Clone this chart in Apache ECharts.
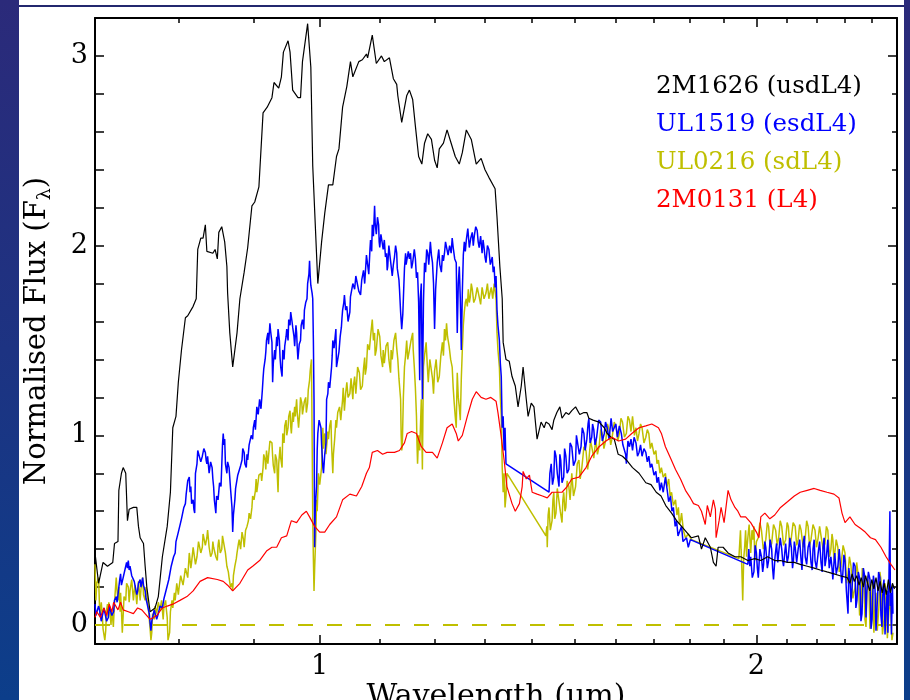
<!DOCTYPE html>
<html>
<head>
<meta charset="utf-8">
<title>Normalised spectra of L4 dwarfs and subdwarfs</title>
<script src="https://cdn.jsdelivr.net/npm/echarts@6/dist/echarts.min.js"></script>
<style>
  html, body { margin: 0; padding: 0; width: 910px; height: 700px; overflow: hidden; }
  body { position: relative; background: linear-gradient(180deg, #2b2a7a 0%, #1d3382 50%, #0c3e8a 100%); }
  #sheet { position: absolute; left: 19px; top: 0; width: 885px; height: 700px; background: #ffffff; }
  #rule { position: absolute; left: 19px; top: 5px; width: 885px; height: 2px; background: #23276e; }
  #chart { position: absolute; left: 0; top: 0; width: 910px; height: 700px; }
</style>
</head>
<body>
<div id="sheet"></div>
<div id="rule"></div>
<div id="chart"></div>
<script>
// Spectra: [wavelength (micron), normalised flux]
const NAMES = ['2M1626 (usdL4)', 'UL1519 (esdL4)', 'UL0216 (sdL4)', '2M0131 (L4)'];
const COLORS = ['#000000', '#0000ff', '#bfbf00', '#ff0000'];

const SPEC_2M1626 = [
  [0.7005,0.36],[0.704,0.22],[0.709,0.33],[0.714,0.31],[0.72,0.33],[0.722,0.43],[0.726,0.44],[0.727,0.71],
  [0.73,0.80],[0.732,0.83],[0.735,0.80],[0.737,0.55],[0.739,0.61],[0.744,0.62],[0.748,0.62],[0.75,0.52],
  [0.752,0.46],[0.756,0.43],[0.758,0.31],[0.76,0.20],[0.764,0.07],[0.766,0.06],[0.77,0.09],[0.774,0.15],
  [0.779,0.36],[0.781,0.36],[0.785,0.52],[0.789,0.70],[0.792,1.04],[0.796,1.10],[0.799,1.28],[0.803,1.45],
  [0.808,1.62],[0.811,1.63],[0.818,1.68],[0.822,1.72],[0.824,1.98],[0.828,2.04],[0.831,2.04],[0.834,2.11],
  [0.836,1.97],[0.844,1.96],[0.847,1.98],[0.85,1.93],[0.852,2.07],[0.856,2.10],[0.86,2.02],[0.863,1.89],
  [0.864,1.75],[0.867,1.54],[0.871,1.36],[0.877,1.54],[0.881,1.72],[0.887,1.86],[0.892,1.99],[0.898,2.21],
  [0.902,2.23],[0.908,2.31],[0.914,2.70],[0.92,2.73],[0.927,2.78],[0.93,2.86],[0.937,2.83],[0.941,2.89],
  [0.944,3.02],[0.951,3.08],[0.954,3.02],[0.958,2.82],[0.966,2.78],[0.97,2.78],[0.973,2.97],[0.981,3.17],
  [0.986,2.94],[0.989,2.42],[0.997,1.80],[1.003,2.02],[1.008,2.17],[1.014,2.32],[1.021,2.32],[1.027,2.47],
  [1.031,2.51],[1.037,2.73],[1.044,2.84],[1.05,2.97],[1.054,2.89],[1.064,2.97],[1.07,2.98],[1.077,3.01],
  [1.079,2.99],[1.087,3.11],[1.094,2.96],[1.103,3.00],[1.108,2.97],[1.117,2.99],[1.124,2.88],[1.13,2.85],
  [1.132,2.79],[1.139,2.65],[1.142,2.66],[1.148,2.79],[1.153,2.82],[1.159,2.77],[1.164,2.63],[1.17,2.47],
  [1.176,2.43],[1.181,2.54],[1.187,2.59],[1.194,2.56],[1.2,2.45],[1.205,2.41],[1.209,2.51],[1.217,2.54],
  [1.224,2.61],[1.232,2.54],[1.24,2.47],[1.248,2.43],[1.254,2.49],[1.262,2.61],[1.272,2.56],[1.282,2.43],
  [1.292,2.46],[1.3,2.40],[1.308,2.36],[1.321,2.30],[1.325,2.15],[1.331,1.89],[1.336,1.72],[1.338,1.49],
  [1.344,1.40],[1.351,1.39],[1.357,1.31],[1.364,1.26],[1.37,1.15],[1.377,1.26],[1.381,1.36],[1.388,1.19],
  [1.392,1.10],[1.399,1.17],[1.405,1.15],[1.412,0.98],[1.421,1.07],[1.428,1.04],[1.432,1.07],[1.439,1.06],
  [1.446,1.03],[1.45,1.08],[1.457,1.12],[1.464,1.15],[1.469,1.09],[1.478,1.12],[1.485,1.11],[1.492,1.13],
  [1.501,1.15],[1.511,1.11],[1.521,1.12],[1.528,1.12],[1.533,1.09],[1.543,1.08],[1.558,1.07],[1.571,1.04],
  [1.578,1.01],[1.588,0.99],[1.596,0.98],[1.606,0.90],[1.617,0.89],[1.627,0.87],[1.643,0.83],[1.66,0.80],
  [1.678,0.75],[1.692,0.74],[1.706,0.70],[1.719,0.68],[1.732,0.63],[1.748,0.59],[1.762,0.55],[1.776,0.52],
  [1.79,0.49],[1.804,0.46],[1.824,0.47],[1.833,0.40],[1.844,0.46],[1.859,0.41],[1.868,0.33],[1.876,0.31],
  [1.882,0.41],[1.897,0.41],[1.912,0.38],[1.933,0.36],[1.951,0.36],[1.973,0.34],[1.995,0.35],[2.014,0.34],
  [2.036,0.36],[2.059,0.34],[2.078,0.34],[2.101,0.33],[2.124,0.33],[2.144,0.32],[2.168,0.31],[2.192,0.30],
  [2.213,0.29],[2.237,0.28],[2.262,0.27],[2.284,0.26],[2.31,0.25],[2.32,0.22],[2.328,0.27],[2.336,0.23],
  [2.345,0.26],[2.354,0.21],[2.362,0.25],[2.37,0.20],[2.378,0.26],[2.386,0.22],[2.394,0.18],[2.402,0.24],
  [2.41,0.19],[2.418,0.25],[2.426,0.18],[2.434,0.23],[2.442,0.17],[2.45,0.22],[2.458,0.16],[2.466,0.24],
  [2.474,0.17],[2.482,0.22],[2.49,0.19]
];

const SPEC_UL1519 = [
  [0.700,0.11],[0.701,0.05],[0.702,0.04],[0.704,0.10],[0.705,0.08],[0.707,0.02],[0.709,0.03],[0.710,0.09],
  [0.712,0.08],[0.713,0.02],[0.715,0.04],[0.716,0.10],[0.718,0.09],[0.719,0.05],[0.721,0.07],[0.722,0.13],
  [0.724,0.15],[0.725,0.12],[0.727,0.20],[0.728,0.24],[0.729,0.27],[0.730,0.21],[0.731,0.22],[0.732,0.25],
  [0.734,0.29],[0.736,0.33],[0.737,0.30],[0.738,0.34],[0.739,0.29],[0.740,0.31],[0.742,0.26],[0.744,0.27],
  [0.745,0.23],[0.746,0.22],[0.748,0.16],[0.749,0.18],[0.750,0.22],[0.752,0.24],[0.753,0.20],[0.755,0.25],
  [0.756,0.21],[0.758,0.18],[0.759,0.14],[0.760,0.13],[0.762,0.08],[0.763,0.06],[0.764,0.01],[0.765,-0.03],
  [0.766,0.02],[0.768,0.03],[0.769,0.08],[0.770,0.07],[0.772,0.03],[0.774,0.06],[0.776,0.10],[0.779,0.09],
  [0.781,0.14],[0.783,0.13],[0.784,0.19],[0.785,0.18],[0.787,0.24],[0.789,0.25],[0.790,0.31],[0.792,0.31],
  [0.793,0.36],[0.795,0.38],[0.796,0.44],[0.797,0.45],[0.799,0.49],[0.801,0.50],[0.803,0.56],[0.805,0.57],
  [0.806,0.62],[0.808,0.64],[0.809,0.69],[0.810,0.70],[0.811,0.76],[0.813,0.78],[0.814,0.70],[0.815,0.73],
  [0.816,0.64],[0.818,0.66],[0.819,0.61],[0.820,0.59],[0.821,0.80],[0.823,0.85],[0.824,0.92],[0.826,0.91],
  [0.828,0.86],[0.830,0.89],[0.832,0.93],[0.834,0.91],[0.835,0.87],[0.836,0.85],[0.837,0.89],[0.839,0.80],
  [0.841,0.86],[0.843,0.83],[0.844,0.77],[0.845,0.73],[0.846,0.66],[0.848,0.59],[0.849,0.68],[0.851,0.66],
  [0.853,0.75],[0.855,0.73],[0.857,0.95],[0.858,1.01],[0.859,0.95],[0.860,0.98],[0.861,0.85],[0.863,0.80],
  [0.864,0.86],[0.866,0.83],[0.868,0.72],[0.870,0.62],[0.871,0.49],[0.872,0.58],[0.874,0.66],[0.875,0.72],
  [0.877,0.73],[0.878,0.79],[0.880,0.80],[0.882,0.84],[0.884,0.87],[0.885,0.93],[0.887,0.91],[0.888,0.85],
  [0.890,0.83],[0.891,0.90],[0.892,0.87],[0.894,0.95],[0.896,0.94],[0.897,1.00],[0.899,0.98],[0.900,1.04],
  [0.902,1.08],[0.903,1.03],[0.905,1.15],[0.907,1.11],[0.909,1.19],[0.911,1.14],[0.913,1.24],[0.914,1.30],
  [0.915,1.35],[0.917,1.40],[0.918,1.44],[0.919,1.50],[0.921,1.54],[0.922,1.48],[0.924,1.59],[0.925,1.55],
  [0.927,1.49],[0.928,1.28],[0.929,1.38],[0.931,1.45],[0.932,1.40],[0.934,1.52],[0.935,1.47],[0.936,1.56],
  [0.938,1.50],[0.939,1.41],[0.940,1.36],[0.942,1.31],[0.943,1.45],[0.945,1.40],[0.946,1.47],[0.948,1.52],
  [0.949,1.56],[0.951,1.50],[0.952,1.61],[0.954,1.58],[0.955,1.65],[0.957,1.60],[0.958,1.57],[0.960,1.52],
  [0.961,1.47],[0.963,1.58],[0.964,1.54],[0.965,1.46],[0.966,1.40],[0.968,1.48],[0.970,1.50],[0.971,1.58],
  [0.973,1.61],[0.975,1.56],[0.976,1.66],[0.978,1.70],[0.980,1.72],[0.981,1.80],[0.983,1.85],[0.984,1.92],
  [0.985,1.84],[0.986,1.79],[0.988,1.75],[0.989,1.72],[0.990,1.50],[0.991,1.19],[0.992,0.41],[0.993,0.62],
  [0.995,0.73],[0.996,0.92],[0.997,1.01],[0.999,1.08],[1.002,1.04],[1.003,0.95],[1.005,0.83],[1.006,0.80],
  [1.008,0.90],[1.010,0.96],[1.011,1.19],[1.013,1.22],[1.014,1.28],[1.016,1.25],[1.019,1.36],[1.020,1.42],
  [1.021,1.50],[1.023,1.46],[1.026,1.56],[1.027,1.36],[1.029,1.40],[1.031,1.44],[1.033,1.52],[1.035,1.57],
  [1.036,1.62],[1.037,1.66],[1.039,1.70],[1.040,1.74],[1.042,1.66],[1.044,1.68],[1.046,1.60],[1.049,1.65],
  [1.050,1.73],[1.052,1.72],[1.054,1.80],[1.057,1.77],[1.059,1.84],[1.062,1.83],[1.064,1.76],[1.067,1.74],
  [1.069,1.82],[1.072,1.87],[1.074,1.80],[1.077,1.95],[1.079,1.90],[1.081,1.85],[1.083,1.98],[1.084,2.03],
  [1.086,1.97],[1.087,2.11],[1.089,2.05],[1.091,2.21],[1.092,2.12],[1.094,2.06],[1.096,2.15],[1.098,2.11],
  [1.099,2.02],[1.100,1.99],[1.102,2.06],[1.105,2.07],[1.106,1.98],[1.108,2.03],[1.110,1.94],[1.112,1.96],
  [1.113,1.87],[1.114,1.89],[1.116,2.00],[1.117,1.99],[1.119,1.92],[1.121,1.91],[1.122,1.84],[1.124,1.90],
  [1.126,1.94],[1.128,2.00],[1.130,1.96],[1.131,1.88],[1.132,1.89],[1.134,1.82],[1.135,1.77],[1.137,1.65],
  [1.139,1.56],[1.141,1.64],[1.142,1.72],[1.144,1.88],[1.146,1.96],[1.147,1.90],[1.149,1.89],[1.151,1.97],
  [1.153,1.93],[1.155,1.96],[1.157,1.88],[1.159,1.91],[1.162,1.98],[1.164,1.93],[1.166,1.83],[1.168,1.86],
  [1.170,1.70],[1.172,1.29],[1.173,1.72],[1.175,1.80],[1.177,1.19],[1.179,1.70],[1.181,1.91],[1.183,1.86],
  [1.185,1.98],[1.187,1.96],[1.189,1.90],[1.192,2.02],[1.194,1.95],[1.196,1.91],[1.198,1.80],[1.200,1.56],
  [1.202,1.77],[1.204,1.86],[1.205,1.91],[1.208,1.98],[1.210,1.90],[1.213,1.86],[1.215,1.95],[1.217,1.92],
  [1.219,1.96],[1.221,2.02],[1.224,2.03],[1.226,1.95],[1.229,2.00],[1.232,1.96],[1.234,2.04],[1.236,1.99],
  [1.239,1.93],[1.242,1.91],[1.243,1.70],[1.244,1.54],[1.246,1.80],[1.248,1.89],[1.250,1.72],[1.252,1.45],
  [1.253,1.60],[1.254,1.75],[1.256,1.95],[1.258,2.02],[1.260,1.97],[1.262,2.03],[1.265,2.09],[1.268,1.99],
  [1.271,2.04],[1.274,2.07],[1.276,2.00],[1.278,2.05],[1.281,2.10],[1.284,2.08],[1.286,2.02],[1.288,1.99],
  [1.291,2.05],[1.294,1.96],[1.296,2.03],[1.298,1.99],[1.300,1.94],[1.302,1.91],[1.305,2.00],[1.308,1.98],
  [1.311,1.90],[1.315,1.94],[1.317,1.86],[1.319,1.89],[1.321,1.78],[1.323,1.84],[1.325,1.66],[1.327,1.58],
  [1.330,1.50],[1.332,1.38],[1.334,1.31],[1.336,1.04],[1.338,1.10],[1.340,0.92],[1.342,1.04],[1.344,0.85],
  [1.439,0.70],[1.441,0.80],[1.444,0.85],[1.447,0.74],[1.450,0.78],[1.452,0.92],[1.455,0.89],[1.458,0.80],
  [1.462,0.73],[1.464,0.90],[1.466,0.87],[1.469,0.75],[1.473,0.78],[1.475,0.93],[1.478,0.89],[1.481,0.80],
  [1.485,0.82],[1.488,0.96],[1.492,0.94],[1.496,0.84],[1.501,0.87],[1.503,1.00],[1.506,0.99],[1.510,0.90],
  [1.514,0.94],[1.517,1.04],[1.521,1.01],[1.524,0.92],[1.528,0.98],[1.531,1.06],[1.533,1.09],[1.536,0.96],
  [1.540,0.99],[1.542,1.06],[1.545,1.03],[1.548,0.95],[1.552,0.99],[1.557,1.08],[1.562,1.07],[1.566,0.97],
  [1.571,1.01],[1.574,1.07],[1.578,1.04],[1.583,0.98],[1.588,1.09],[1.592,1.02],[1.596,1.01],[1.600,1.06],
  [1.604,0.99],[1.609,1.05],[1.614,1.01],[1.618,0.95],[1.622,0.96],[1.625,0.90],[1.627,0.85],[1.631,0.97],
  [1.635,0.94],[1.639,0.98],[1.643,0.92],[1.647,0.99],[1.652,0.96],[1.656,0.89],[1.660,0.91],[1.664,0.95],
  [1.668,0.89],[1.673,0.93],[1.678,0.91],[1.682,0.86],[1.686,0.89],[1.690,0.83],[1.694,0.85],[1.700,0.79],
  [1.705,0.81],[1.708,0.75],[1.712,0.78],[1.716,0.71],[1.720,0.75],[1.725,0.70],[1.731,0.78],[1.736,0.71],
  [1.740,0.65],[1.745,0.68],[1.749,0.60],[1.753,0.62],[1.758,0.52],[1.762,0.55],[1.766,0.47],[1.770,0.49],
  [1.776,0.52],[1.780,0.44],[1.784,0.43],[1.790,0.46],[1.795,0.41],[1.801,0.45],
  [1.973,0.32],[1.976,0.40],[1.979,0.31],[1.982,0.36],[1.987,0.25],[1.992,0.28],[1.996,0.42],[2.000,0.38],
  [2.003,0.30],[2.006,0.25],[2.011,0.40],[2.016,0.36],[2.020,0.28],[2.023,0.32],[2.027,0.44],[2.030,0.41],
  [2.035,0.30],[2.039,0.34],[2.044,0.45],[2.049,0.40],[2.052,0.30],[2.055,0.24],[2.060,0.36],[2.065,0.43],
  [2.069,0.33],[2.072,0.38],[2.077,0.46],[2.082,0.40],[2.085,0.34],[2.088,0.31],[2.092,0.38],[2.095,0.43],
  [2.100,0.33],[2.104,0.36],[2.109,0.46],[2.114,0.41],[2.118,0.30],[2.121,0.34],[2.124,0.44],[2.127,0.41],
  [2.132,0.33],[2.137,0.40],[2.142,0.45],[2.147,0.34],[2.150,0.29],[2.154,0.43],[2.158,0.47],[2.161,0.36],
  [2.166,0.32],[2.171,0.41],[2.176,0.44],[2.181,0.33],[2.185,0.29],[2.188,0.40],[2.192,0.45],[2.195,0.34],
  [2.200,0.30],[2.206,0.38],[2.211,0.44],[2.216,0.33],[2.220,0.28],[2.223,0.41],[2.227,0.46],[2.230,0.31],
  [2.235,0.36],[2.240,0.45],[2.245,0.30],[2.251,0.36],[2.255,0.30],[2.258,0.24],[2.262,0.33],[2.265,0.38],
  [2.270,0.27],[2.276,0.31],[2.281,0.40],[2.287,0.41],[2.290,0.22],[2.294,0.27],[2.298,0.37],[2.302,0.34],
  [2.307,0.18],[2.313,0.06],[2.316,0.30],[2.320,0.25],[2.324,0.12],[2.328,0.20],[2.333,0.33],[2.339,0.31],
  [2.342,0.09],[2.346,0.13],[2.351,0.28],[2.357,0.24],[2.361,0.02],[2.365,0.06],[2.370,0.30],[2.376,0.25],
  [2.380,0.04],[2.383,0.17],[2.389,0.28],[2.395,0.24],[2.399,-0.02],[2.403,0.03],[2.408,0.26],[2.414,0.20],
  [2.418,-0.03],[2.422,0.09],[2.428,0.28],[2.433,0.25],[2.437,0.05],[2.441,-0.01],[2.445,0.20],[2.449,0.24],
  [2.453,-0.05],[2.457,0.09],[2.461,0.18],[2.464,-0.04],[2.468,0.22],[2.472,0.60],[2.474,0.10],[2.476,0.17],
  [2.478,-0.05],[2.480,-0.04],[2.482,0.20],[2.484,0.06]
];

const SPEC_UL0216 = [
  [0.700,0.32],[0.701,0.13],[0.702,0.22],[0.704,0.25],[0.705,0.10],[0.7055,0.05],[0.707,0.12],[0.708,0.06],
  [0.709,-0.02],[0.711,-0.08],[0.712,-0.03],[0.713,0.08],[0.714,0.11],[0.715,0.04],[0.7155,0.12],[0.717,0.06],
  [0.718,0.00],[0.719,0.08],[0.720,0.03],[0.7207,-0.01],[0.722,0.12],[0.724,0.25],[0.725,0.18],[0.726,0.13],
  [0.727,0.20],[0.7285,0.07],[0.729,0.17],[0.730,0.08],[0.731,-0.04],[0.732,0.05],[0.733,0.15],[0.735,0.13],
  [0.736,0.22],[0.738,0.20],[0.739,0.12],[0.740,0.18],[0.742,0.24],[0.744,0.13],[0.745,0.18],[0.746,0.21],
  [0.748,0.11],[0.749,0.17],[0.750,0.23],[0.752,0.13],[0.753,0.19],[0.755,0.25],[0.756,0.16],[0.758,0.13],
  [0.759,0.20],[0.760,0.17],[0.762,0.08],[0.763,0.03],[0.764,-0.02],[0.765,-0.08],[0.766,-0.04],[0.767,0.06],
  [0.769,0.03],[0.770,0.10],[0.772,0.06],[0.774,0.12],[0.776,0.08],[0.778,0.13],[0.780,0.03],[0.781,0.10],
  [0.783,0.13],[0.784,0.08],[0.785,0.04],[0.786,-0.08],[0.788,-0.04],[0.789,0.07],[0.791,0.13],[0.792,0.09],
  [0.794,0.17],[0.795,0.13],[0.797,0.22],[0.799,0.16],[0.800,0.20],[0.802,0.26],[0.804,0.27],[0.805,0.21],
  [0.806,0.24],[0.808,0.30],[0.810,0.31],[0.811,0.25],[0.813,0.38],[0.815,0.30],[0.816,0.33],[0.818,0.41],
  [0.819,0.40],[0.821,0.32],[0.823,0.36],[0.825,0.44],[0.826,0.45],[0.828,0.38],[0.830,0.41],[0.831,0.48],
  [0.832,0.49],[0.834,0.42],[0.836,0.46],[0.837,0.50],[0.839,0.41],[0.841,0.36],[0.843,0.38],[0.844,0.44],
  [0.845,0.41],[0.848,0.36],[0.850,0.34],[0.851,0.42],[0.852,0.45],[0.854,0.38],[0.856,0.40],[0.857,0.47],
  [0.859,0.46],[0.861,0.38],[0.863,0.31],[0.865,0.28],[0.866,0.25],[0.868,0.20],[0.870,0.22],[0.871,0.18],
  [0.872,0.26],[0.874,0.31],[0.876,0.35],[0.877,0.38],[0.879,0.43],[0.880,0.45],[0.882,0.40],[0.884,0.49],
  [0.886,0.45],[0.887,0.41],[0.889,0.50],[0.891,0.52],[0.893,0.55],[0.894,0.59],[0.896,0.56],[0.898,0.62],
  [0.899,0.68],[0.901,0.66],[0.903,0.71],[0.904,0.77],[0.905,0.70],[0.906,0.73],[0.908,0.79],[0.911,0.80],
  [0.912,0.76],[0.914,0.83],[0.915,0.90],[0.917,0.87],[0.918,0.82],[0.919,0.92],[0.921,0.85],[0.922,0.89],
  [0.924,0.97],[0.927,0.96],[0.928,0.89],[0.929,0.84],[0.931,0.80],[0.932,0.90],[0.934,0.87],[0.935,0.78],
  [0.936,0.70],[0.937,0.85],[0.939,0.94],[0.940,0.88],[0.942,0.83],[0.943,1.01],[0.945,0.96],[0.946,1.05],
  [0.948,1.08],[0.949,1.00],[0.951,1.04],[0.952,1.10],[0.954,1.13],[0.955,1.05],[0.956,1.01],[0.958,1.12],
  [0.959,1.07],[0.961,1.15],[0.962,1.10],[0.964,1.19],[0.965,1.12],[0.967,1.04],[0.969,1.13],[0.970,1.20],
  [0.972,1.17],[0.973,1.11],[0.975,1.10],[0.976,1.18],[0.978,1.20],[0.979,1.12],[0.981,1.17],[0.982,1.24],
  [0.984,1.29],[0.985,1.34],[0.987,1.40],[0.988,1.00],[0.989,0.57],[0.990,0.35],[0.991,0.18],[0.992,0.30],
  [0.994,0.49],[0.995,0.66],[0.996,0.60],[0.998,0.80],[1.000,0.74],[1.003,0.83],[1.004,0.96],[1.005,1.04],
  [1.006,0.93],[1.008,1.01],[1.010,0.90],[1.011,0.94],[1.013,1.02],[1.014,0.98],[1.016,1.05],[1.018,1.08],
  [1.019,0.95],[1.021,0.80],[1.022,0.90],[1.024,0.98],[1.026,1.08],[1.027,1.04],[1.029,1.12],[1.032,1.15],
  [1.034,1.08],[1.037,1.19],[1.038,1.25],[1.040,1.13],[1.042,1.22],[1.044,1.28],[1.046,1.20],[1.049,1.22],
  [1.051,1.30],[1.054,1.19],[1.055,1.26],[1.057,1.31],[1.059,1.22],[1.060,1.26],[1.062,1.36],[1.065,1.33],
  [1.067,1.24],[1.070,1.26],[1.072,1.35],[1.074,1.41],[1.075,1.32],[1.077,1.36],[1.079,1.48],[1.082,1.45],
  [1.084,1.52],[1.087,1.61],[1.089,1.50],[1.091,1.54],[1.092,1.42],[1.094,1.45],[1.097,1.56],[1.100,1.52],
  [1.102,1.42],[1.105,1.36],[1.106,1.45],[1.108,1.38],[1.111,1.47],[1.114,1.49],[1.116,1.40],[1.119,1.33],
  [1.120,1.45],[1.122,1.40],[1.125,1.50],[1.128,1.54],[1.130,1.46],[1.132,1.40],[1.134,1.30],[1.137,1.19],
  [1.138,1.00],[1.139,0.92],[1.140,0.94],[1.142,1.20],[1.144,1.36],[1.146,1.42],[1.148,1.50],[1.150,1.40],
  [1.153,1.45],[1.156,1.50],[1.159,1.54],[1.160,1.45],[1.162,1.36],[1.164,1.25],[1.166,1.10],[1.167,0.95],
  [1.168,0.85],[1.170,1.00],[1.172,0.92],[1.174,1.10],[1.175,1.19],[1.176,1.00],[1.177,0.82],[1.178,1.10],
  [1.179,1.36],[1.181,1.42],[1.184,1.49],[1.186,1.38],[1.188,1.28],[1.191,1.40],[1.194,1.41],[1.196,1.30],
  [1.198,1.22],[1.200,1.34],[1.203,1.40],[1.206,1.28],[1.209,1.31],[1.212,1.42],[1.215,1.49],[1.217,1.42],
  [1.219,1.56],[1.221,1.50],[1.223,1.59],[1.225,1.52],[1.228,1.47],[1.231,1.40],[1.234,1.36],[1.236,1.25],
  [1.238,1.17],[1.240,1.10],[1.242,1.04],[1.243,1.20],[1.244,1.33],[1.246,1.20],[1.248,1.15],[1.250,1.08],
  [1.252,1.30],[1.254,1.45],[1.256,1.58],[1.258,1.65],[1.260,1.70],[1.262,1.72],[1.264,1.68],[1.266,1.77],
  [1.268,1.70],[1.270,1.73],[1.272,1.80],[1.274,1.77],[1.277,1.70],[1.280,1.72],[1.284,1.78],[1.288,1.73],
  [1.291,1.69],[1.294,1.78],[1.298,1.72],[1.302,1.75],[1.305,1.80],[1.308,1.72],[1.311,1.76],[1.313,1.78],
  [1.316,1.72],[1.319,1.80],[1.321,1.76],[1.323,1.72],[1.325,1.54],[1.327,1.45],[1.330,1.36],[1.332,1.20],
  [1.334,1.10],[1.336,0.83],[1.338,0.70],[1.340,0.80],[1.342,0.62],[1.344,0.68],[1.346,0.80],
  [1.432,0.47],[1.434,0.52],[1.435,0.41],[1.437,0.58],[1.439,0.62],[1.442,0.50],[1.446,0.55],[1.448,0.66],
  [1.450,0.70],[1.452,0.56],[1.455,0.59],[1.458,0.72],[1.462,0.73],[1.465,0.60],[1.469,0.54],[1.471,0.66],
  [1.473,0.70],[1.476,0.60],[1.478,0.62],[1.481,0.76],[1.485,0.73],[1.488,0.66],[1.492,0.80],[1.496,0.68],
  [1.501,0.73],[1.505,0.85],[1.509,0.87],[1.512,0.77],[1.516,0.83],[1.521,0.94],[1.526,0.92],[1.530,0.82],
  [1.533,0.87],[1.537,0.97],[1.540,0.94],[1.545,0.88],[1.550,0.98],[1.554,0.90],[1.558,0.94],[1.562,1.03],
  [1.566,1.01],[1.570,0.93],[1.575,0.98],[1.579,1.06],[1.583,1.03],[1.587,0.95],[1.590,0.98],[1.596,1.07],
  [1.601,1.04],[1.605,0.97],[1.609,1.01],[1.613,1.09],[1.617,1.07],[1.622,0.99],[1.627,1.01],[1.631,1.10],
  [1.635,1.08],[1.639,1.02],[1.643,1.10],[1.648,1.00],[1.652,1.04],[1.656,0.97],[1.660,1.01],[1.664,1.06],
  [1.668,1.04],[1.673,0.96],[1.678,0.99],[1.682,1.03],[1.686,1.01],[1.690,0.93],[1.694,0.96],[1.700,0.90],
  [1.705,0.92],[1.708,0.85],[1.712,0.87],[1.716,0.80],[1.720,0.83],[1.725,0.78],[1.731,0.80],[1.735,0.73],
  [1.740,0.77],[1.744,0.68],[1.748,0.70],[1.753,0.63],[1.759,0.66],[1.763,0.58],[1.767,0.62],[1.770,0.53],
  [1.773,0.55],[1.776,0.59],[1.781,0.50],[1.787,0.46],[1.795,0.48],[1.804,0.45],
  [1.945,0.35],[1.948,0.44],[1.950,0.50],[1.952,0.40],[1.954,0.31],[1.957,0.13],[1.960,0.35],[1.963,0.41],
  [1.966,0.50],[1.969,0.36],[1.971,0.42],[1.973,0.46],[1.977,0.53],[1.982,0.38],[1.986,0.50],[1.989,0.45],
  [1.992,0.52],[1.995,0.34],[2.000,0.44],[2.006,0.46],[2.011,0.54],[2.016,0.50],[2.022,0.40],[2.030,0.45],
  [2.035,0.54],[2.039,0.52],[2.044,0.41],[2.049,0.43],[2.055,0.53],[2.062,0.50],[2.067,0.42],[2.072,0.46],
  [2.077,0.55],[2.082,0.52],[2.088,0.42],[2.095,0.45],[2.100,0.54],[2.104,0.52],[2.109,0.41],[2.114,0.46],
  [2.120,0.54],[2.127,0.52],[2.132,0.42],[2.137,0.45],[2.142,0.53],[2.147,0.50],[2.154,0.41],[2.161,0.46],
  [2.166,0.55],[2.171,0.52],[2.176,0.42],[2.181,0.45],[2.188,0.53],[2.195,0.50],[2.200,0.41],[2.206,0.46],
  [2.211,0.52],[2.216,0.51],[2.223,0.40],[2.230,0.43],[2.235,0.52],[2.240,0.50],[2.246,0.36],[2.251,0.40],
  [2.255,0.48],[2.258,0.45],[2.262,0.34],[2.265,0.38],[2.270,0.45],[2.276,0.41],[2.281,0.28],[2.287,0.31],
  [2.295,0.42],[2.302,0.38],[2.308,0.22],[2.313,0.27],[2.318,0.36],[2.324,0.31],[2.331,0.14],[2.339,0.20],
  [2.345,0.33],[2.350,0.27],[2.356,0.05],[2.361,0.09],[2.366,0.30],[2.372,0.24],[2.376,0.03],[2.380,-0.01],
  [2.385,0.26],[2.391,0.20],[2.395,-0.02],[2.399,0.06],[2.404,0.22],[2.410,-0.04],[2.414,0.10],[2.418,0.17],
  [2.423,-0.03],[2.429,0.09],[2.433,0.28],[2.437,0.24],[2.443,-0.05],[2.449,0.03],[2.453,0.22],[2.457,0.15],
  [2.462,-0.07],[2.468,-0.06],[2.472,0.16],[2.476,0.06],[2.480,-0.08],[2.484,-0.04]
];

const SPEC_2M0131 = [
  [0.700,0.04],[0.702,0.07],[0.706,0.04],[0.710,0.09],[0.713,0.05],[0.716,0.11],[0.719,0.07],[0.721,0.12],
  [0.726,0.08],[0.729,0.12],[0.732,0.08],[0.738,0.07],[0.744,0.06],[0.749,0.09],[0.754,0.08],[0.760,0.05],
  [0.764,0.03],[0.768,0.04],[0.772,0.05],[0.779,0.09],[0.785,0.10],[0.792,0.11],[0.801,0.13],[0.810,0.15],
  [0.818,0.18],[0.827,0.23],[0.837,0.25],[0.850,0.24],[0.858,0.23],[0.864,0.21],[0.871,0.18],[0.881,0.22],
  [0.892,0.29],[0.899,0.31],[0.909,0.34],[0.919,0.39],[0.927,0.41],[0.934,0.41],[0.941,0.46],[0.949,0.47],
  [0.956,0.55],[0.964,0.54],[0.972,0.58],[0.979,0.60],[0.984,0.57],[0.992,0.52],[1.000,0.49],[1.008,0.49],
  [1.016,0.53],[1.027,0.57],[1.037,0.66],[1.049,0.69],[1.060,0.68],[1.069,0.73],[1.077,0.80],[1.082,0.83],
  [1.087,0.91],[1.096,0.92],[1.105,0.90],[1.113,0.91],[1.126,0.91],[1.135,0.92],[1.144,0.96],[1.149,1.01],
  [1.157,1.02],[1.166,1.01],[1.175,0.94],[1.184,0.91],[1.196,0.91],[1.205,0.88],[1.215,0.96],[1.224,1.04],
  [1.234,1.06],[1.242,1.01],[1.246,0.97],[1.254,1.00],[1.264,1.10],[1.274,1.19],[1.282,1.23],[1.292,1.20],
  [1.302,1.19],[1.312,1.20],[1.323,1.18],[1.327,1.12],[1.333,1.01],[1.340,0.87],[1.346,0.73],[1.357,0.64],
  [1.364,0.60],[1.373,0.64],[1.379,0.73],[1.381,0.81],[1.388,0.77],[1.395,0.79],[1.401,0.70],[1.412,0.69],
  [1.424,0.68],[1.435,0.67],[1.446,0.70],[1.457,0.70],[1.469,0.70],[1.481,0.73],[1.492,0.77],[1.509,0.78],
  [1.526,0.83],[1.540,0.89],[1.558,0.94],[1.575,0.97],[1.590,0.99],[1.607,0.97],[1.625,0.98],[1.641,1.01],
  [1.660,1.04],[1.678,1.05],[1.694,1.06],[1.712,1.04],[1.720,1.01],[1.731,0.94],[1.745,0.88],[1.759,0.82],
  [1.773,0.77],[1.787,0.71],[1.801,0.67],[1.810,0.64],[1.824,0.63],[1.833,0.60],[1.844,0.53],[1.850,0.63],
  [1.859,0.57],[1.868,0.66],[1.874,0.61],[1.876,0.46],[1.885,0.55],[1.891,0.62],[1.900,0.54],[1.912,0.71],
  [1.921,0.66],[1.933,0.62],[1.942,0.60],[1.951,0.57],[1.966,0.57],[1.982,0.54],[2.000,0.49],[2.008,0.46],
  [2.014,0.57],[2.027,0.59],[2.043,0.56],[2.059,0.58],[2.078,0.62],[2.101,0.65],[2.124,0.68],[2.144,0.70],
  [2.168,0.71],[2.192,0.72],[2.213,0.71],[2.237,0.70],[2.262,0.69],[2.280,0.67],[2.291,0.59],[2.302,0.54],
  [2.320,0.57],[2.339,0.53],[2.359,0.51],[2.377,0.49],[2.397,0.46],[2.416,0.45],[2.437,0.41],[2.457,0.36],
  [2.476,0.32],[2.492,0.29]
];

const ZERO_LEVEL = [[0.7, 0], [2.5, 0]];

// Axis ranges and tick positions
const X_RANGE = [0.7, 2.5];
const Y_RANGE = [-0.1, 3.2];
const X_MINOR_TICKS = [0.8, 0.9, 1.1, 1.2, 1.3, 1.4, 1.5, 1.6, 1.7, 1.8, 1.9, 2.1, 2.2, 2.3, 2.4];
const X_MAJOR_TICKS = [1, 2];
const Y_MINOR_TICKS = [0, 0.2, 0.4, 0.6, 0.8, 1, 1.2, 1.4, 1.6, 1.8, 2, 2.2, 2.4, 2.6, 2.8, 3, 3.2];
const Y_MAJOR_TICKS = [0, 1, 2, 3];

const SERIF = '"DejaVu Serif", "Liberation Serif", serif';

function xAxisDef(position, ticks, len, withLine, withLabels) {
  return {
    type: 'log', logBase: 10, min: X_RANGE[0], max: X_RANGE[1], position: position,
    axisLine: { show: withLine, onZero: false, lineStyle: { color: '#000', width: 2 } },
    axisTick: { show: true, inside: true, length: len, customValues: ticks, lineStyle: { color: '#000', width: 1.5 } },
    axisLabel: withLabels
      ? { show: true, customValues: ticks, margin: 9, color: '#000', fontFamily: SERIF, fontSize: 27, formatter: v => String(+v) }
      : { show: false },
    splitLine: { show: false }, minorTick: { show: false }
  };
}

function yAxisDef(position, ticks, len, withLine, withLabels) {
  return {
    type: 'value', min: Y_RANGE[0], max: Y_RANGE[1], position: position,
    axisLine: { show: withLine, onZero: false, lineStyle: { color: '#000', width: 2 } },
    axisTick: { show: true, inside: true, length: len, customValues: ticks, lineStyle: { color: '#000', width: 1.5 } },
    axisLabel: withLabels
      ? { show: true, customValues: ticks, margin: 7, color: '#000', fontFamily: SERIF, fontSize: 27, formatter: v => String(Math.round(v)) }
      : { show: false },
    splitLine: { show: false }
  };
}

function spectrum(name, data, color, width) {
  return {
    name: name, type: 'line', data: data, xAxisIndex: 0, yAxisIndex: 0,
    showSymbol: false, symbol: 'none', silent: true, clip: true,
    lineStyle: { color: color, width: width }, itemStyle: { color: color },
    emphasis: { disabled: true }
  };
}

const chart = echarts.init(document.getElementById('chart'), null, { renderer: 'canvas' });
chart.setOption({
  animation: false,
  backgroundColor: 'transparent',
  grid: { left: 95, right: 13, top: 18, bottom: 56, containLabel: false },
  xAxis: [
    xAxisDef('bottom', X_MINOR_TICKS, 5, true, false),
    xAxisDef('bottom', X_MAJOR_TICKS, 9, false, true),
    xAxisDef('top', X_MINOR_TICKS, 5, true, false),
    xAxisDef('top', X_MAJOR_TICKS, 9, false, false)
  ],
  yAxis: [
    yAxisDef('left', Y_MINOR_TICKS, 9, true, false),
    yAxisDef('left', Y_MAJOR_TICKS, 9, false, true),
    yAxisDef('right', Y_MINOR_TICKS, 5, true, false),
    yAxisDef('right', Y_MAJOR_TICKS, 9, false, false)
  ],
  legend: {
    orient: 'vertical', left: 646, top: 69,
    icon: 'none', itemWidth: 0, itemHeight: 26, itemGap: 12,
    selectedMode: false,
    textStyle: { fontFamily: SERIF, fontSize: 24.5, lineHeight: 26 },
    data: NAMES.map((n, i) => ({ name: n, textStyle: { color: COLORS[i] } }))
  },
  series: [
    {
      name: 'zero', type: 'line', data: ZERO_LEVEL, showSymbol: false, symbol: 'none', silent: true,
      lineStyle: { color: COLORS[2], width: 2, type: [15, 14] }, emphasis: { disabled: true }
    },
    spectrum(NAMES[2], SPEC_UL0216, COLORS[2], 1.5),
    spectrum(NAMES[1], SPEC_UL1519, COLORS[1], 1.5),
    spectrum(NAMES[0], SPEC_2M1626, COLORS[0], 1.2),
    spectrum(NAMES[3], SPEC_2M0131, COLORS[3], 1.2)
  ],
  graphic: [
    {
      type: 'text', x: 496, y: 682, silent: true,
      style: { text: 'Wavelength (μm)', fill: '#000', font: '30px ' + SERIF, align: 'center', verticalAlign: 'top' }
    },
    {
      type: 'text', x: 37, y: 331, rotation: Math.PI / 2, silent: true,
      style: {
        text: '{n|Normalised Flux (F}{s|λ}{n|)}', fill: '#000', align: 'center', verticalAlign: 'middle',
        rich: {
          n: { fontFamily: SERIF, fontSize: 29, lineHeight: 36, verticalAlign: 'middle', fill: '#000' },
          s: { fontFamily: SERIF, fontSize: 19, lineHeight: 36, verticalAlign: 'bottom', fill: '#000' }
        }
      }
    }
  ]
});
</script>
</body>
</html>
